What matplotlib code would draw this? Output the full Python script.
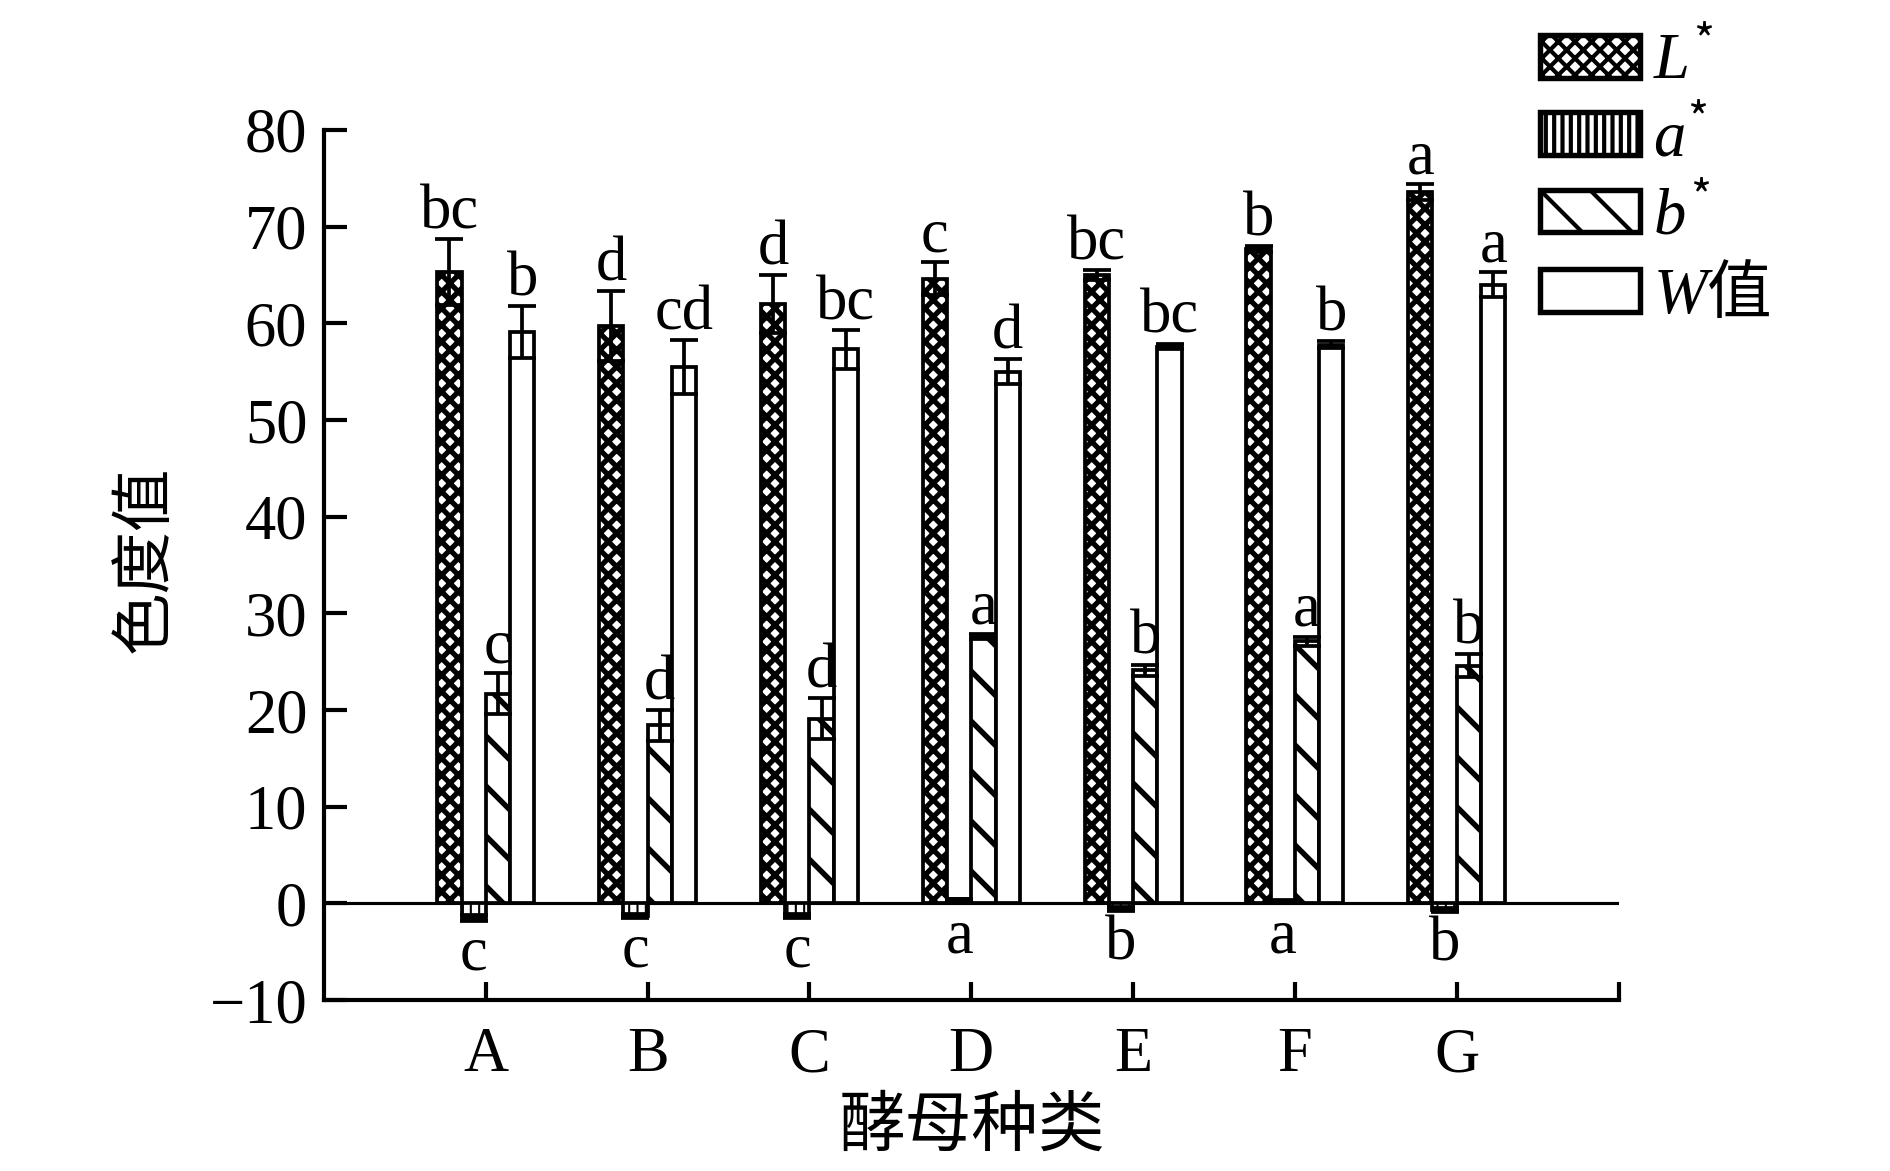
import matplotlib
matplotlib.use('Agg')
import matplotlib.pyplot as plt
import numpy as np

plt.rcParams['font.family'] = ['Liberation Serif', 'Noto Sans CJK SC']
plt.rcParams['mathtext.fontset'] = 'custom'
plt.rcParams['mathtext.rm'] = 'Noto Sans CJK SC'
plt.rcParams['mathtext.it'] = 'Liberation Serif:italic'
plt.rcParams['hatch.linewidth'] = 2.0

# data
groups = ['A', 'B', 'C', 'D', 'E', 'F', 'G']
names = ['$L^{*}$', '$a^{*}$', '$b^{*}$', r'$W\mathrm{值}$']

L_val = [65.3, 59.7, 62.0, 64.6, 65.0, 67.7, 73.6]
L_sd = [3.4, 3.6, 3.0, 1.7, 0.5, 0.3, 0.8]
a_val = [-1.5, -1.3, -1.3, 0.4, -0.6, 0.2, -0.7]
a_sd = [0.3, 0.2, 0.2, 0.1, 0.2, 0.1, 0.2]
b_val = [21.7, 18.4, 19.1, 27.6, 24.1, 27.1, 24.6]
b_sd = [2.1, 1.6, 2.1, 0.3, 0.6, 0.5, 1.2]
W_val = [59.1, 55.5, 57.3, 55.0, 57.6, 57.8, 64.0]
W_sd = [2.7, 2.8, 2.0, 1.3, 0.3, 0.4, 1.3]

L_sig = ['bc', 'd', 'd', 'c', 'bc', 'b', 'a']
a_sig = ['c', 'c', 'c', 'a', 'b', 'a', 'b']
b_sig = ['c', 'd', 'd', 'a', 'b', 'a', 'b']
W_sig = ['b', 'cd', 'bc', 'd', 'bc', 'b', 'a']

vals = [L_val, a_val, b_val, W_val]
sds = [L_sd, a_sd, b_sd, W_sd]
sigs = [L_sig, a_sig, b_sig, W_sig]
hatches = ['xxx', '|||', '\\', '']
hatch_lw = [2.5, 1.0, 2.6, 1.0]

fig = plt.figure(figsize=(12.6, 7.8067), dpi=150)
ax = fig.add_axes([0.1714, 0.146, 0.685, 0.743])

x = np.arange(len(groups))
w = 0.15
fs = 30
handles = []
for k in range(4):
    pos = x + (k - 1.5) * w
    with plt.rc_context({'hatch.linewidth': hatch_lw[k]}):
        bars = ax.bar(pos, vals[k], w, color='white', edgecolor='black',
                      linewidth=1.8, hatch=hatches[k], zorder=2, label=names[k])
    for p in bars.patches:
        if hasattr(p, 'set_hatch_linewidth'):
            p.set_hatch_linewidth(hatch_lw[k])
    handles.append(bars)
    ax.errorbar(pos, vals[k], yerr=sds[k], fmt='none', ecolor='black',
                elinewidth=1.8, capsize=6.5, capthick=1.8, zorder=3)
    for xi, v, s, lab in zip(pos, vals[k], sds[k], sigs[k]):
        if k == 1:
            ax.text(xi, min(0, v - s) - 0.5, lab, ha='center', va='top', fontsize=fs)
        else:
            ax.text(xi, v + s + 1.1, lab, ha='center', va='baseline', fontsize=fs)

ax.axhline(0, color='black', lw=1.5, zorder=1.5)
ax.set_xlim(-1, 7)
ax.set_ylim(-10, 80)
ax.set_yticks(np.arange(-10, 81, 10))
ax.set_xticks(list(x) + [7])
ax.set_xticklabels(groups + [''])
ax.tick_params(direction='in', width=2, labelsize=fs)
ax.tick_params(axis='y', length=11, pad=8)
ax.tick_params(axis='x', length=8.5, pad=13)
for side in ['top', 'right']:
    ax.spines[side].set_visible(False)
for side in ['left', 'bottom']:
    ax.spines[side].set_linewidth(2)

fig.text(0.0767, 0.522, '色度值', rotation=90, ha='center', va='center',
         fontsize=30, family='Noto Sans CJK SC')
fig.text(0.514, 0.0376, '酵母种类', ha='center', va='center',
         fontsize=32, family='Noto Sans CJK SC')

leg = fig.legend(handles=handles, labels=names, loc='upper left',
                 bbox_to_anchor=(0.815, 0.973), frameon=False, fontsize=31,
                 handlelength=1.55, handleheight=0.64, handletextpad=0.2,
                 labelspacing=0.25, borderpad=0, borderaxespad=0)
for h in leg.legend_handles:
    h.set_linewidth(2.6)

fig.savefig('out.png', dpi=150)
